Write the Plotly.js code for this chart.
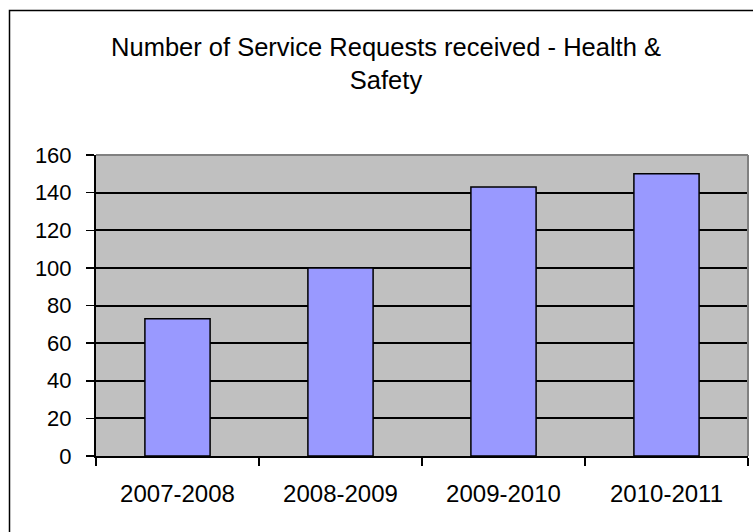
<!DOCTYPE html>
<html>
<head>
<meta charset="utf-8">
<script src="https://cdn.plot.ly/plotly-3.0.1.min.js"></script>
<style>
  html, body { margin: 0; padding: 0; background: #ffffff; }
  #chart { width: 753px; height: 532px; }
</style>
</head>
<body>
<div id="chart"></div>
<script>
var categories = ["2007-2008", "2008-2009", "2009-2010", "2010-2011"];
var requests = [73, 100, 143, 150];
var yTickValues = [0, 20, 40, 60, 80, 100, 120, 140, 160];
var chartTitle = "Number of Service Requests received - Health &amp;<br>Safety";

var W = 753, H = 532;
var mL = 96, mR = 5, mT = 155, mB = 76;
var pw = W - mL - mR, ph = H - mT - mB;
function px2x(px) { return (px - mL) / pw; }
function py2y(py) { return (H - mB - py) / ph; }

var trace = {
  type: "bar",
  x: categories,
  y: requests,
  marker: { color: "#9999FF", line: { color: "#000000", width: 1.5 } },
  hoverinfo: "x+y"
};

var layout = {
  width: W, height: H,
  margin: { l: mL, r: mR, t: mT, b: mB, pad: 0 },
  paper_bgcolor: "#FFFFFF",
  plot_bgcolor: "#C0C0C0",
  font: { family: "Liberation Sans, Arial, sans-serif", color: "#000000", size: 22 },
  showlegend: false,
  bargap: 0.6,
  title: {
    text: chartTitle,
    font: { size: 25.5, family: "Liberation Sans, Arial, sans-serif", color: "#000000" },
    xref: "container", yref: "container",
    x: 386 / W, xanchor: "center",
    y: 1 - 56 / H, yanchor: "top"
  },
  xaxis: {
    type: "category",
    tickson: "boundaries",
    ticks: "outside", ticklen: 8, tickwidth: 1.5, tickcolor: "#000000",
    showgrid: false,
    showline: true, linecolor: "#000000", linewidth: 2,
    tickfont: { size: 24 },
    ticklabelstandoff: 15,
    zeroline: false,
    fixedrange: true
  },
  yaxis: {
    range: [0, 160],
    tickvals: yTickValues,
    ticks: "outside", ticklen: 8, tickwidth: 1.5, tickcolor: "#000000",
    showgrid: true, gridcolor: "#000000", gridwidth: 2,
    showline: true, linecolor: "#000000", linewidth: 2,
    zeroline: false,
    tickfont: { size: 22 },
    ticklabelstandoff: 10,
    fixedrange: true
  },
  shapes: [
    { type: "line", xref: "paper", yref: "paper", x0: 0, x1: 1, y0: 1, y1: 1,
      line: { color: "#808080", width: 2 }, layer: "above" },
    { type: "line", xref: "paper", yref: "paper", x0: 1, x1: 1, y0: 0, y1: 1,
      line: { color: "#808080", width: 2 }, layer: "above" },
    { type: "rect", xref: "paper", yref: "paper",
      x0: px2x(9.5), x1: px2x(780), y0: py2y(10.5), y1: py2y(560),
      line: { color: "#000000", width: 1.5 }, fillcolor: "rgba(0,0,0,0)", layer: "above" }
  ]
};

Plotly.newPlot("chart", [trace], layout, { displayModeBar: false, staticPlot: true });
</script>
</body>
</html>
